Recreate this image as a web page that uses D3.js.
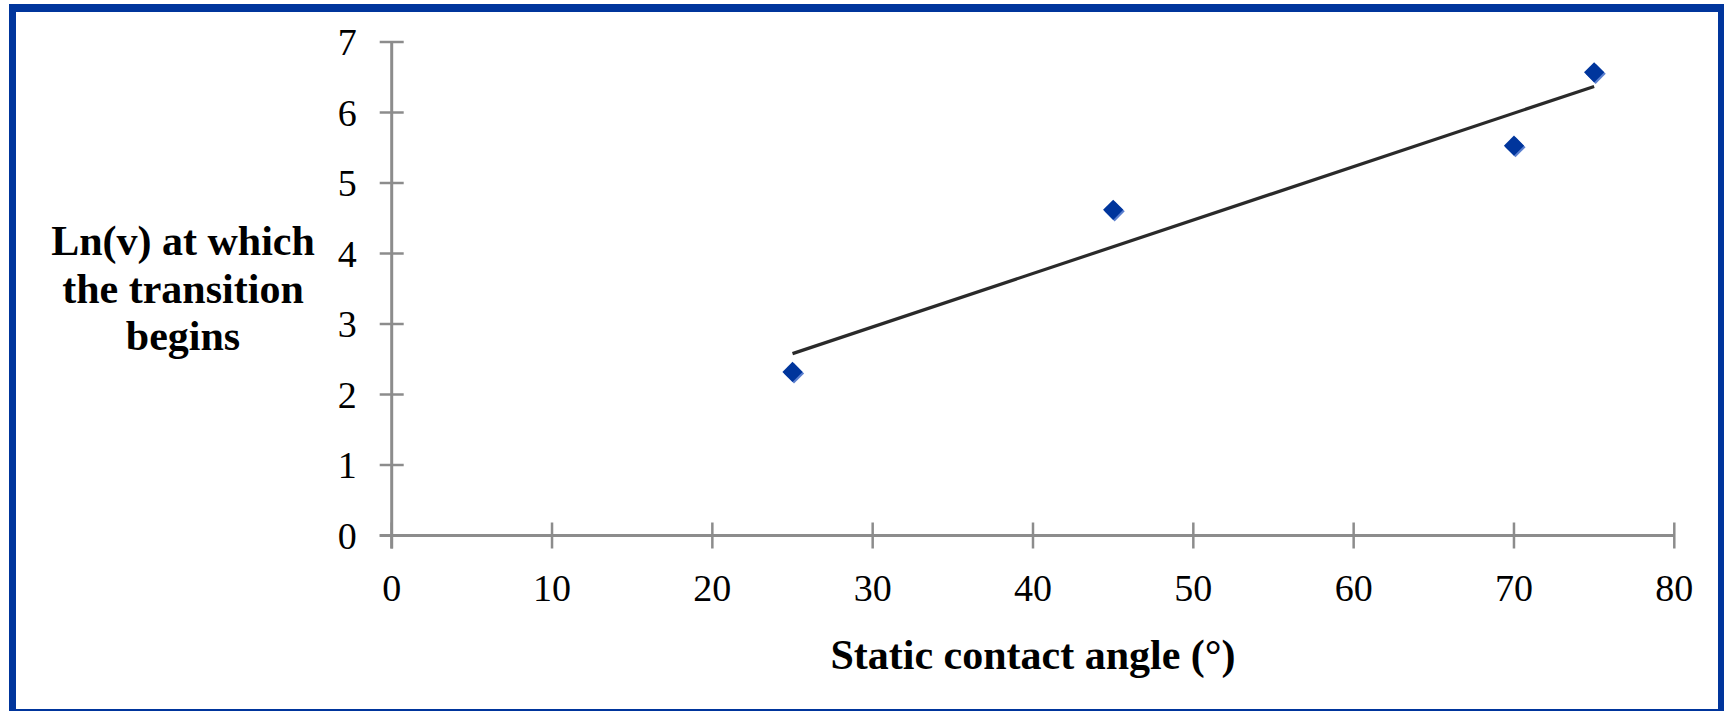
<!DOCTYPE html>
<html>
<head>
<meta charset="utf-8">
<script src="https://cdn.jsdelivr.net/npm/d3@7"></script>
<style>
  html, body { margin: 0; padding: 0; background: #fff; }
  svg { display: block; }
  text { font-family: "Liberation Serif", "Times New Roman", serif; fill: #000; }
</style>
</head>
<body>
<svg id="chart" width="1724" height="711"></svg>
<script>
// Static contact angle (degrees) and Ln(v) at which the transition begins
const angle = [25, 45, 70, 75];
const lnV = [2.32, 4.62, 5.53, 6.57];

// Linear trendline end points
const trendAngle = [25, 75];
const trendLnV = [2.58, 6.37];

const xTicks = [0, 10, 20, 30, 40, 50, 60, 70, 80];
const yTicks = [0, 1, 2, 3, 4, 5, 6, 7];

const xTitle = "Static contact angle (°)";
const yTitle = ["Ln(v) at which", "the transition", "begins"];

const W = 1724, H = 711;
const svg = d3.select("#chart");

// Frame
svg.append("rect").attr("x", 9).attr("y", 4).attr("width", W - 9).attr("height", H - 4).attr("fill", "#00359c");
svg.append("rect").attr("x", 16).attr("y", 12).attr("width", 1718 - 16).attr("height", 709 - 12).attr("fill", "#fff");

const x = d3.scaleLinear().domain([0, 80]).range([391.7, 1674.3]);
const y = d3.scaleLinear().domain([0, 7]).range([535.5, 42]);

const axisColor = "#8c8c8c";

// X axis with crossing ticks
const gx = svg.append("g").attr("transform", `translate(0,${y(0)})`);
gx.append("line").attr("x1", x(0) - 12).attr("x2", x(80)).attr("stroke", axisColor).attr("stroke-width", 3);
gx.selectAll("line.tick").data(xTicks).join("line").attr("class", "tick")
  .attr("x1", d => x(d)).attr("x2", d => x(d)).attr("y1", -13).attr("y2", 13)
  .attr("stroke", axisColor).attr("stroke-width", 2.5);
gx.selectAll("text").data(xTicks).join("text")
  .attr("x", d => x(d)).attr("y", 65).attr("text-anchor", "middle")
  .attr("font-size", 38).text(d => d);

// Y axis with crossing ticks
const gy = svg.append("g").attr("transform", `translate(${x(0)},0)`);
gy.append("line").attr("y1", y(0) + 13).attr("y2", y(7)).attr("stroke", axisColor).attr("stroke-width", 3);
gy.selectAll("line.tick").data(yTicks).join("line").attr("class", "tick")
  .attr("y1", d => y(d)).attr("y2", d => y(d)).attr("x1", -12).attr("x2", 12)
  .attr("stroke", axisColor).attr("stroke-width", 2.5);
gy.selectAll("text").data(yTicks).join("text")
  .attr("x", -35).attr("y", d => y(d)).attr("dy", "0.35em").attr("text-anchor", "end")
  .attr("font-size", 38).text(d => d);

// Trendline
svg.append("line")
  .attr("x1", x(trendAngle[0])).attr("y1", y(trendLnV[0]))
  .attr("x2", x(trendAngle[1])).attr("y2", y(trendLnV[1]))
  .attr("stroke", "#2a2a2a").attr("stroke-width", 3.2);

// Diamond markers with a light lower-right edge
const diamond = d3.symbol().type(d3.symbolDiamond2).size(260);
const pts = angle.map((a, i) => [a, lnV[i]]);
const gm = svg.append("g");
gm.selectAll("path.shade").data(pts).join("path").attr("class", "shade")
  .attr("transform", d => `translate(${x(d[0]) + 1.5},${y(d[1]) + 1.5})`)
  .attr("d", diamond).attr("fill", "#5a7fcf");
gm.selectAll("path.mark").data(pts).join("path").attr("class", "mark")
  .attr("transform", d => `translate(${x(d[0])},${y(d[1])})`)
  .attr("d", diamond).attr("fill", "#00359c");

// Axis titles
svg.append("text").attr("x", 1033).attr("y", 669).attr("text-anchor", "middle")
  .attr("font-size", 42).attr("font-weight", "bold").text(xTitle);

svg.append("text").attr("text-anchor", "middle").attr("font-size", 42).attr("font-weight", "bold")
  .selectAll("tspan").data(yTitle).join("tspan")
  .attr("x", 183).attr("y", (d, i) => 255 + i * 47.5).text(d => d);
</script>
</body>
</html>
